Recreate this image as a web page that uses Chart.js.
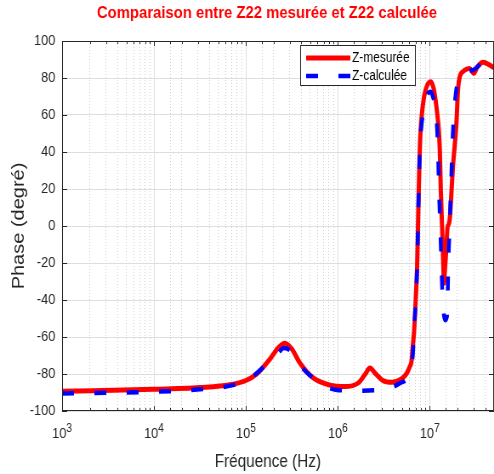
<!DOCTYPE html>
<html>
<head>
<meta charset="utf-8">
<script src="https://cdn.jsdelivr.net/npm/chart.js@4.4.1/dist/chart.umd.min.js"></script>
<style>
    html, body { margin: 0; padding: 0; background: #fff; overflow: hidden; }
    /* la figure d'origine est légèrement comprimée en largeur */
    #wrap { width: 581px; height: 474px; transform: scaleX(0.8503); transform-origin: 0 0; }
</style>
</head>
<body>
<div id="wrap"><canvas id="phase-chart" width="581" height="474"></canvas></div>
<script>
// Z22 mesurée (Hz, degrés)
const freqMeasured = [
    1e3, 1e4, 3.16e4, 6.7e4, 1e5, 1.31e5, 1.82e5, 2.23e5, 2.65e5, 3.16e5,
    3.86e5, 5.35e5, 8.19e5, 1.19e6, 1.65e6, 1.96e6, 2.23e6, 2.59e6, 3.08e6, 3.86e6,
    4.96e6, 5.62e6, 6.06e6, 6.33e6, 6.53e6, 6.75e6, 7.04e6, 7.28e6, 7.41e6, 7.55e6,
    7.71e6, 7.88e6, 8.39e6, 9.05e6, 1.025e7, 1.105e7, 1.177e7, 1.237e7, 1.284e7, 1.317e7,
    1.36e7, 1.396e7, 1.427e7, 1.455e7, 1.519e7, 1.557e7, 1.609e7, 1.65e7, 1.72e7, 1.792e7,
    1.87e7, 1.951e7, 2.03e7, 2.12e7, 2.3e7, 2.59e7, 2.72e7, 3.01e7, 3.3e7, 3.8e7,
    4.49e7, 4.96e7
];
const phaseMeasured = [
    -89.3, -88.3, -87.3, -85.8, -83.5, -80, -72, -66, -63.4, -66.5,
    -74, -82, -86, -86.8, -85, -80.5, -76.8, -80, -83.5, -84.5,
    -82.5, -79.6, -76, -73, -65, -57, -39, -22, -5, 15,
    33, 48, 65, 74, 78, 74, 65, 55, 42, 20,
    0, -18, -31, -25, -11, -1, 1, 4, 18, 33,
    44, 56, 74, 80.7, 83.5, 85, 85.2, 82.5, 86, 88.5,
    87, 85.5
];

// Z22 calculée (Hz, degrés)
const freqCalc = [
    1e3, 1e4, 3.16e4, 7.22e4, 1e5, 1.35e5, 1.82e5, 2.17e5, 2.59e5, 3.16e5,
    4.17e5, 5.35e5, 7.59e5, 9.75e5, 1.73e6, 3.41e6, 4.72e6, 6.06e6, 6.53e6, 6.75e6,
    7.04e6, 7.28e6, 7.41e6, 7.55e6, 7.71e6, 7.88e6, 8.39e6, 9.05e6, 1.025e7, 1.079e7,
    1.162e7, 1.207e7, 1.237e7, 1.262e7, 1.3e7, 1.334e7, 1.367e7, 1.402e7, 1.473e7, 1.549e7,
    1.57e7, 1.589e7, 1.622e7, 1.671e7, 1.72e7, 1.757e7, 1.824e7, 1.902e7, 2.014e7, 2.12e7,
    2.36e7, 2.72e7, 3.01e7, 3.3e7, 3.8e7, 4.49e7, 4.96e7
];
const phaseCalc = [
    -90.5, -89.6, -88.3, -86, -83.5, -79, -73, -69.7, -66, -68,
    -77, -82, -87, -88.6, -89, -88, -85, -79.5, -70, -57,
    -39, -22, -5, 15, 33, 46, 60, 69, 72.6, 70,
    62, 50, 35, 18, 0, -18, -35, -45, -51, -48,
    -35, -22, -8, 10, 28, 42, 60, 70, 78, 80.7,
    82.5, 83.8, 84.5, 86, 88.5, 87, 85.5
];

const seriesLabels = ['Z-mesurée', 'Z-calculée'];
const chartTitle = 'Comparaison entre Z22 mesurée et Z22 calculée';
const xTitle = 'Fréquence (Hz)';
const yTitle = 'Phase (degré)';

const AXIS_COLOR = '#262626';
const FONT = '"Liberation Sans", Arial, sans-serif';

function isDecade(v) {
    const l = Math.log10(v);
    return Math.abs(l - Math.round(l)) < 1e-9;
}

const toPoints = (xs, ys) => xs.map((x, i) => ({ x, y: ys[i] }));

// titres, étiquettes 10^n, cadre, graduations intérieures, légende
const matlabLook = {
    id: 'matlabLook',
    afterDatasetsDraw(chart) {
        const { ctx, chartArea: a, scales } = chart;
        ctx.save();
        ctx.strokeStyle = AXIS_COLOR;
        ctx.lineWidth = 1;
        ctx.strokeRect(a.left + 0.5, a.top + 0.5, a.right - a.left - 1, a.bottom - a.top - 1);

        ctx.beginPath();
        scales.x.ticks.forEach(t => {
            const px = Math.round(scales.x.getPixelForValue(t.value)) + 0.5;
            const len = isDecade(t.value) ? 5 : 3;
            ctx.moveTo(px, a.bottom); ctx.lineTo(px, a.bottom - len);
            ctx.moveTo(px, a.top); ctx.lineTo(px, a.top + len);
        });
        scales.y.ticks.forEach(t => {
            const py = Math.round(scales.y.getPixelForValue(t.value)) + 0.5;
            ctx.moveTo(a.left, py); ctx.lineTo(a.left + 6, py);
            ctx.moveTo(a.right, py); ctx.lineTo(a.right - 6, py);
        });
        ctx.stroke();
        ctx.restore();
    },
    afterDraw(chart) {
        const { ctx, chartArea: a, scales } = chart;
        ctx.save();

        // étiquettes de l'axe x : 10 avec exposant
        ctx.fillStyle = AXIS_COLOR;
        ctx.textAlign = 'left';
        ctx.textBaseline = 'alphabetic';
        scales.x.ticks.filter(t => isDecade(t.value)).forEach(t => {
            const px = scales.x.getPixelForValue(t.value);
            const exp = String(Math.round(Math.log10(t.value)));
            ctx.font = `15px ${FONT}`;
            const wBase = ctx.measureText('10').width;
            ctx.font = `12px ${FONT}`;
            const wExp = ctx.measureText(exp).width;
            const x0 = px - (wBase + wExp) / 2;
            ctx.font = `15px ${FONT}`;
            ctx.fillText('10', x0, a.bottom + 27);
            ctx.font = `12px ${FONT}`;
            ctx.fillText(exp, x0 + wBase, a.bottom + 21);
        });

        // titre
        ctx.font = `bold 17px ${FONT}`;
        const sx = 400 / ctx.measureText(chartTitle).width;
        ctx.fillStyle = '#ff0000';
        ctx.textAlign = 'center';
        ctx.save();
        ctx.translate(314, 17.5);
        ctx.scale(sx, 1);
        ctx.fillText(chartTitle, 0, 0);
        ctx.restore();

        // titres des axes
        ctx.fillStyle = AXIS_COLOR;
        ctx.font = `18px ${FONT}`;
        ctx.fillText(xTitle, 315, 467);
        ctx.save();
        ctx.translate(27.5, (a.top + a.bottom) / 2);
        ctx.rotate(-Math.PI / 2);
        ctx.font = `20px ${FONT}`;
        ctx.fillText(yTitle, 0, 0);
        ctx.restore();

        // légende
        const box = { x: 353.5, y: 45.5, w: 135, h: 40 };
        ctx.fillStyle = '#fff';
        ctx.fillRect(box.x, box.y, box.w, box.h);
        ctx.strokeStyle = AXIS_COLOR;
        ctx.lineWidth = 1;
        ctx.strokeRect(box.x, box.y, box.w, box.h);

        const rows = [58, 76];
        chart.data.datasets.forEach((ds, i) => {
            ctx.beginPath();
            ctx.strokeStyle = ds.borderColor;
            ctx.lineWidth = ds.borderWidth;
            ctx.setLineDash(ds.borderDash || []);
            ctx.lineCap = 'butt';
            ctx.moveTo(360, rows[i]);
            ctx.lineTo(412, rows[i]);
            ctx.stroke();
            ctx.setLineDash([]);
            ctx.fillStyle = '#000';
            ctx.font = `14px ${FONT}`;
            ctx.textAlign = 'left';
            ctx.textBaseline = 'middle';
            ctx.fillText(ds.label, 414, rows[i] + 0.5);
        });
        ctx.restore();
    }
};

new Chart(document.getElementById('phase-chart'), {
    type: 'line',
    data: {
        datasets: [{
            label: seriesLabels[0],
            data: toPoints(freqMeasured, phaseMeasured),
            borderColor: '#ff0000',
            borderWidth: 5,
            pointRadius: 0,
            cubicInterpolationMode: 'monotone',
            order: 2
        }, {
            label: seriesLabels[1],
            data: toPoints(freqCalc, phaseCalc),
            borderColor: '#0000ff',
            borderWidth: 4.5,
            borderDash: [14, 24],
            borderCapStyle: 'butt',
            pointRadius: 0,
            cubicInterpolationMode: 'monotone',
            order: 1
        }]
    },
    options: {
        responsive: false,
        animation: false,
        layout: { padding: { top: 41, right: 0, bottom: 0, left: 0 } },
        plugins: {
            legend: { display: false },
            title: { display: false },
            tooltip: { enabled: false }
        },
        scales: {
            x: {
                type: 'logarithmic',
                min: 1e3,
                max: 5e7,
                afterFit: s => { s.height = 63; s.paddingRight = 0; s.paddingLeft = 0; },
                grid: {
                    drawTicks: false,
                    color: c => (c.tick && isDecade(c.tick.value)) ? '#dedede' : '#cfcfcf',
                    lineWidth: 1
                },
                border: {
                    display: false,
                    dash: c => (c.tick && isDecade(c.tick.value)) ? [] : [1, 2]
                },
                ticks: { display: false, autoSkip: false, maxRotation: 0 }
            },
            y: {
                min: -100,
                max: 100,
                afterFit: s => { s.width = 73; },
                grid: { drawTicks: false, color: '#dedede' },
                border: { display: false },
                ticks: {
                    stepSize: 20,
                    padding: 8,
                    color: AXIS_COLOR,
                    font: { size: 15, family: FONT }
                }
            }
        }
    },
    plugins: [matlabLook]
});
</script>
</body>
</html>
